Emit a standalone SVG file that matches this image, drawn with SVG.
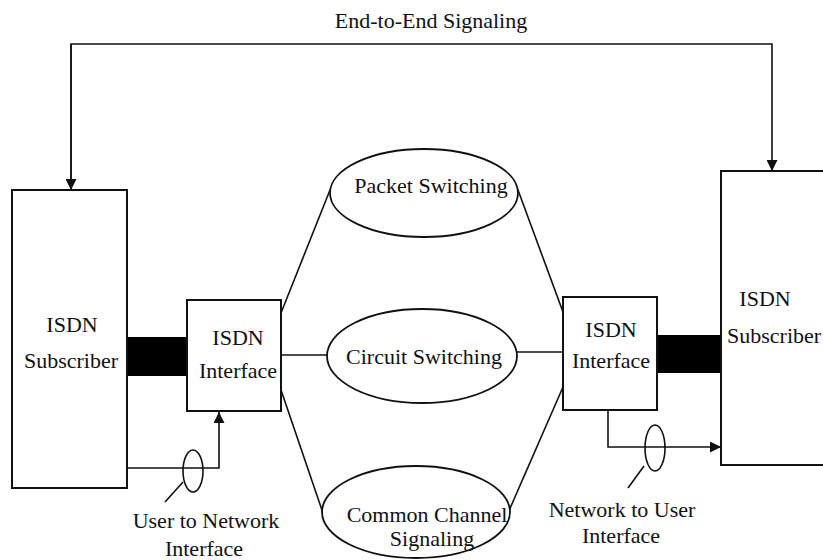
<svg xmlns="http://www.w3.org/2000/svg" width="823" height="560" viewBox="0 0 823 560">
<defs>
<marker id="ah" viewBox="0 0 10 10" refX="10" refY="5" markerWidth="11" markerHeight="11" markerUnits="userSpaceOnUse" orient="auto">
<path d="M0,0 L10,5 L0,10 Z" fill="#111"/>
</marker>
<style>
text{font-family:"Liberation Serif","Times New Roman",serif;font-size:22px;fill:#111;text-anchor:middle}
.box{fill:#fff;stroke:#111;stroke-width:2}
.ell{fill:#fff;stroke:#111;stroke-width:1.8}
.ln{fill:none;stroke:#111;stroke-width:1.6}
.bar{fill:#000}
</style>
</defs>
<rect width="823" height="560" fill="#fff"/>
<text x="431" y="28">End-to-End Signaling</text>
<g id="connectors">
<path class="ln" d="M71,190 V44 H772 V171" marker-end="url(#ah)"/>
<path class="ln" d="M71,44 V190" marker-end="url(#ah)"/>
<rect class="bar" x="127" y="337" width="61" height="39"/>
<rect class="bar" x="657" y="335" width="64" height="38"/>
<path class="ln" d="M281,313 L330,190"/>
<path class="ln" d="M281,355 L327,355"/>
<path class="ln" d="M281,390 L324,516"/>
<path class="ln" d="M518,190 L563,312"/>
<path class="ln" d="M517,352 L563,352"/>
<path class="ln" d="M508,513 L563,387"/>
<path class="ln" d="M128,468 H219 V412" marker-end="url(#ah)"/>
<path class="ln" d="M608,410 V447 H721" marker-end="url(#ah)"/>
<ellipse class="ln" cx="193" cy="471" rx="10" ry="21"/>
<path class="ln" d="M183,482 L165,502"/>
<ellipse class="ln" cx="655" cy="448" rx="10" ry="23"/>
<path class="ln" d="M644,466 L628,488"/>
</g>
<g id="subscriber-left">
<rect class="box" x="12" y="190" width="115" height="298"/>
<text x="72" y="332">ISDN</text>
<text x="71" y="368">Subscriber</text>
</g>
<g id="interface-left">
<rect class="box" x="187" y="300" width="94" height="111"/>
<text x="238" y="345">ISDN</text>
<text x="238" y="378">Interface</text>
</g>
<g id="packet">
<ellipse class="ell" cx="424" cy="193" rx="94" ry="44"/>
<text x="431" y="193">Packet Switching</text>
</g>
<g id="circuit">
<ellipse class="ell" cx="422" cy="356" rx="95" ry="47"/>
<text x="424" y="364">Circuit Switching</text>
</g>
<g id="common">
<ellipse class="ell" cx="416" cy="512" rx="94" ry="46"/>
<text x="427" y="522">Common Channel</text>
<text x="432" y="546">Signaling</text>
</g>
<g id="interface-right">
<rect class="box" x="563" y="297" width="94" height="113"/>
<text x="611" y="337">ISDN</text>
<text x="611" y="368">Interface</text>
</g>
<g id="subscriber-right">
<rect class="box" x="721" y="171" width="120" height="294"/>
<text x="765" y="306">ISDN</text>
<text x="727" y="343" style="text-anchor:start">Subscriber</text>
</g>
<g id="label-uni">
<text x="206" y="528">User to Network</text>
<text x="204" y="556">Interface</text>
</g>
<g id="label-nui">
<text x="622" y="517">Network to User</text>
<text x="621" y="543">Interface</text>
</g>
</svg>
